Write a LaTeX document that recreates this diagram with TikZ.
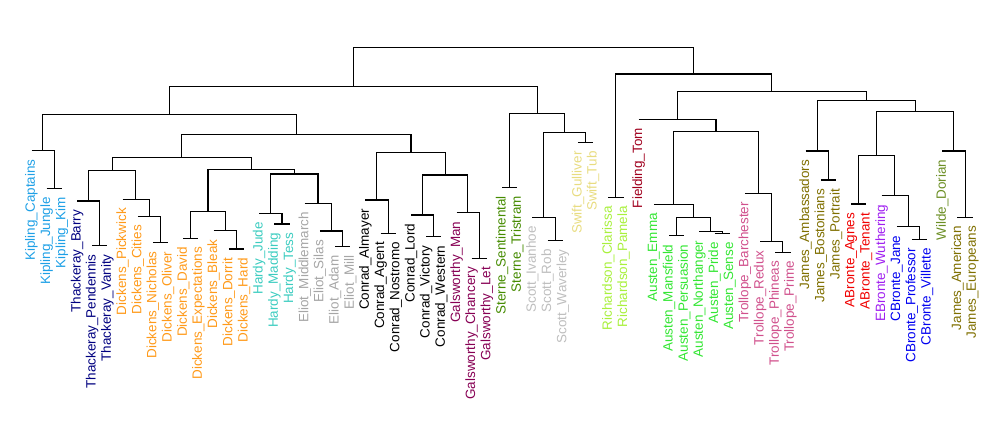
\documentclass[tikz,border=0pt]{standalone}
\usepackage{fontspec}
\setmainfont{Liberation Sans}
\usetikzlibrary{calc}

% One colour per author
\definecolor{Kipling}{HTML}{1EA0E6}
\definecolor{Thackeray}{HTML}{000080}
\definecolor{Dickens}{HTML}{FF9A1A}
\definecolor{Hardy}{HTML}{3CCCC0}
\definecolor{Eliot}{HTML}{A6A6A6}
\definecolor{Conrad}{HTML}{000000}
\definecolor{Galsworthy}{HTML}{870054}
\definecolor{Sterne}{HTML}{458B00}
\definecolor{Scott}{HTML}{BEBEBE}
\definecolor{Swift}{HTML}{E8DC80}
\definecolor{Richardson}{HTML}{A8F03C}
\definecolor{Fielding}{HTML}{A0001E}
\definecolor{Austen}{HTML}{33E633}
\definecolor{Trollope}{HTML}{D0508C}
\definecolor{James}{HTML}{7F6F00}
\definecolor{ABronte}{HTML}{F00000}
\definecolor{EBronte}{HTML}{A020F0}
\definecolor{CBronte}{HTML}{0000F0}
\definecolor{Wilde}{HTML}{6B8E23}

\tikzset{
  leaf/.style={rotate=90, anchor=east, inner sep=0pt,
    font=\fontsize{10.1}{12}\selectfont},
  branch/.style={line width=0.8pt, black},
}

\begin{document}
\begin{tikzpicture}[x=0.75pt, y=-0.75pt]
        \useasboundingbox (0,0) rectangle (1000,447);

        % Leaves and their labels
        \foreach \auth/\book/\h [count=\i from 0] in {
            Kipling/Captains/150.7, Kipling/Jungle/188.3, Kipling/Kim/188.3,
            Thackeray/Barry/201, Thackeray/Pendennis/245.7, Thackeray/Vanity/245.7,
            Dickens/Pickwick/199.3, Dickens/Cities/216.3, Dickens/Nicholas/242.7,
            Dickens/Oliver/242.7, Dickens/David/238.3, Dickens/Expectations/238.3,
            Dickens/Bleak/230.7, Dickens/Dorrit/249, Dickens/Hard/249,
            Hardy/Jude/213.3, Hardy/Madding/224, Hardy/Tess/224,
            Eliot/Middlemarch/203.3, Eliot/Silas/231, Eliot/Adam/246.7, Eliot/Mill/246.7,
            Conrad/Almayer/200, Conrad/Agent/233.3, Conrad/Nostromo/233.3,
            Conrad/Lord/215, Conrad/Victory/236.7, Conrad/Western/236.7,
            Galsworthy/Man/212.7, Galsworthy/Chancery/258.3, Galsworthy/Let/258.3,
            Sterne/Sentimental/187.3, Sterne/Tristram/187.3,
            Scott/Ivanhoe/217.3, Scott/Rob/240.7, Scott/Waverley/240.7,
            Swift/Gulliver/142.7, Swift/Tub/142.7,
            Richardson/Clarissa/197.3, Richardson/Pamela/197.3,
            Fielding/Tom/119.3,
            Austen/Emma/204.3, Austen/Mansfield/235.7, Austen/Persuasion/235.7,
            Austen/Northanger/231.7, Austen/Pride/233.5, Austen/Sense/233.5,
            Trollope/Barchester/193.3, Trollope/Redux/241.7,
            Trollope/Phineas/252.3, Trollope/Prime/252.3,
            James/Ambassadors/151, James/Bostonians/180, James/Portrait/180,
            ABronte/Agnes/204, ABronte/Tenant/204,
            EBronte/Wuthering/195.7,
            CBronte/Jane/226.7, CBronte/Professor/239.3, CBronte/Villette/239.3,
            Wilde/Dorian/151,
            James/American/217.3, James/Europeans/217.3}
        {
            \coordinate (\auth\book) at ({31.5+15.18*\i}, \h);
            \node[leaf, text=\auth] (\auth\book-lbl)
                at ([yshift=-6.4pt]\auth\book) {\auth\_\book};
        }

        % Merges, from the bottom up: name/left/right/height
        \foreach \m/\a/\b/\h in {
            kip2/KiplingJungle/KiplingKim/188.3, kip/KiplingCaptains/kip2/150.7,
            thk2/ThackerayPendennis/ThackerayVanity/245.7, thk/ThackerayBarry/thk2/201,
            dkA3/DickensNicholas/DickensOliver/242.7, dkA2/DickensCities/dkA3/216.3,
            dkA/DickensPickwick/dkA2/199.3, thkdk/thk/dkA/170.7,
            dkB1/DickensDavid/DickensExpectations/238.3,
            dkB3/DickensDorrit/DickensHard/249, dkB2/DickensBleak/dkB3/230.7,
            dkB/dkB1/dkB2/211.7,
            hdy2/HardyMadding/HardyTess/224, hdy/HardyJude/hdy2/213.3,
            elt3/EliotAdam/EliotMill/246.7, elt2/EliotSilas/elt3/231,
            elt/EliotMiddlemarch/elt2/203.3, hdyelt/hdy/elt/174,
            dkBhe/dkB/hdyelt/169.5, mid/thkdk/dkBhe/157.5,
            cnr2/ConradAgent/ConradNostromo/233.3, cnrA/ConradAlmayer/cnr2/200,
            cnr3/ConradVictory/ConradWestern/236.7, cnrB/ConradLord/cnr3/215,
            gal2/GalsworthyChancery/GalsworthyLet/258.3, gal/GalsworthyMan/gal2/212.7,
            cnrgal/cnrB/gal/175, cng/cnrA/cnrgal/152.7,
            centre/mid/cng/134.5, leftA/kip/centre/114.3,
            ste/SterneSentimental/SterneTristram/187.3,
            sct2/ScottRob/ScottWaverley/240.7, sct/ScottIvanhoe/sct2/217.3,
            swf/SwiftGulliver/SwiftTub/142.7, scsw/sct/swf/132.3,
            stsc/ste/scsw/113.5, left/leftA/stsc/86.7,
            ric/RichardsonClarissa/RichardsonPamela/197.3,
            aus3/AustenMansfield/AustenPersuasion/235.7,
            aus5/AustenPride/AustenSense/233.5, aus4/AustenNorthanger/aus5/231.7,
            aus2/aus3/aus4/217.3, aus/AustenEmma/aus2/204.3,
            tro3/TrollopePhineas/TrollopePrime/252.3, tro2/TrollopeRedux/tro3/241.7,
            tro/TrollopeBarchester/tro2/193.3, austro/aus/tro/131.3,
            fld/FieldingTom/austro/119.3,
            jms2/JamesBostonians/JamesPortrait/180, jms/JamesAmbassadors/jms2/151,
            abr/ABronteAgnes/ABronteTenant/204,
            cbr3/CBronteProfessor/CBronteVillette/239.3, cbr2/CBronteJane/cbr3/226.7,
            ecb/EBronteWuthering/cbr2/195.7, bro/abr/ecb/155.7,
            jms4/JamesAmerican/JamesEuropeans/217.3, wld/WildeDorian/jms4/151,
            browld/bro/wld/111.7, jmsbw/jms/browld/100.7,
            fldjb/fld/jmsbw/91.7, right/ric/fldjb/74,
            root/left/right/47.3}
        {
            \path let \p1=(\a), \p2=(\b) in
                coordinate (\m) at ({0.5*\x1+0.5*\x2}, {-0.75pt*\h});
            \draw[branch] (\a) |- (\m) -| (\b);
        }
    \end{tikzpicture}
\end{document}
